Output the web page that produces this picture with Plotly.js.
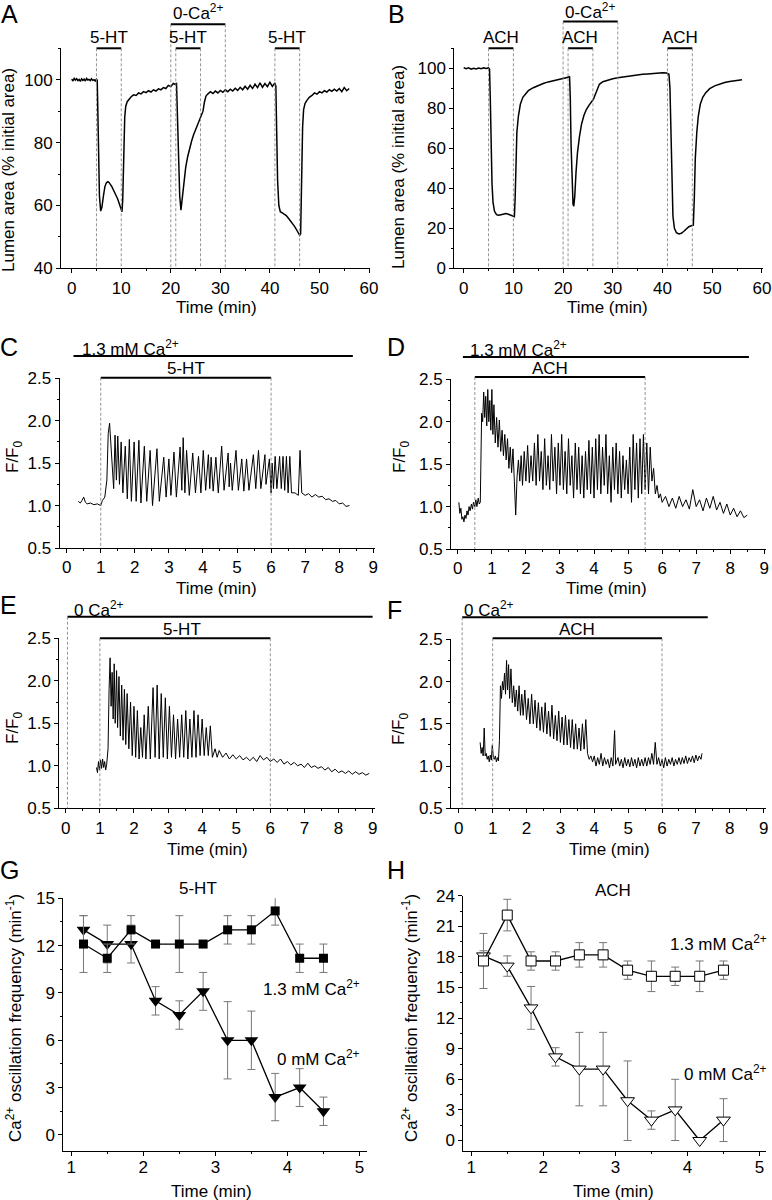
<!DOCTYPE html>
<html><head><meta charset="utf-8">
<script src="https://cdn.plot.ly/plotly-3.0.1.min.js"></script>
<style>html,body{margin:0;padding:0;background:#fff}#chart{width:772px;height:1200px}</style>
</head><body><div id="chart"></div>
<script>
// ---------------- DATA ----------------
// Panel A: lumen area (% initial) vs time (min), 5-HT
const A_trace = [
[0,100.2],[0.25,99.6],[0.5,100.4],[0.75,99.9],[1,100.3],[1.25,99.7],[1.5,100.1],[1.75,99.5],[2,100.3],[2.25,99.8],[2.5,100.2],[2.75,99.6],[3,100.4],[3.25,99.9],[3.5,100.1],[3.75,99.7],[4,100.3],[4.25,99.8],[4.5,100],[4.75,99.6],[5,100.2],[5.15,99.8],
[5.25,92],[5.4,75],[5.6,63],[5.85,58.2],[6.1,59.5],[6.4,63],[6.7,66],[7,67.2],[7.3,67.6],[7.5,67.4],[7.8,66.8],[8.1,66],[8.4,65],[8.7,64.2],[9,63],[9.3,62],[9.6,60.5],[9.9,59],[10.15,58],
[10.3,62],[10.5,78],[10.7,88],[10.9,91.5],[11.2,93],[11.6,93.8],[12,94.6],[12.5,95.2],[13,95],[13.5,95.8],[14,95.5],[14.5,96.2],[15,95.9],[15.5,96.5],[16,96.1],[16.5,96.8],[17,96.4],[17.5,97.1],[18,96.8],[18.5,97.5],[19,97.2],[19.5,98.2],[20,97.8],[20.5,98.8],[21,98.4],[21.15,99],
[21.3,90],[21.5,75],[21.8,63],[22.05,58.5],[22.3,62],[22.6,67],[23,72],[23.4,75.5],[23.8,78.5],[24.2,80.5],[24.6,82.5],[25,84],[25.4,85.5],[25.8,87],[26.2,88.5],[26.5,90],[26.8,93],[27.1,94.8],[27.5,95.5],[28,96.2],[28.5,95.6],[29,96.4],[29.5,95.8],[30,96.6],[30.5,96],[31,96.8],[31.5,96.2],[32,97],[32.5,96.4],[33,97.3],[33.5,96.6],[34,97.6],[34.5,96.8],[35,97.9],[35.5,97],[36,98.2],[36.5,97.2],[37,98.6],[37.5,97.5],[38,99],[38.5,97.6],[39,98.8],[39.5,97.8],[40,99.2],[40.5,97.9],[41,99],[41.2,98],
[41.35,85],[41.55,68],[41.8,60],[42.1,58],[42.5,57.6],[42.9,57.2],[43.3,56.8],[43.7,56],[44.1,55.2],[44.5,54.5],[44.9,53.5],[45.3,52.5],[45.7,51.2],[46,50.5],[46.2,51],
[46.4,70],[46.6,85],[46.8,90.5],[47.1,92.5],[47.5,93.5],[48,94.5],[48.5,95],[49,95.8],[49.5,95.4],[50,96.2],[50.5,95.8],[51,96.5],[51.5,96.1],[52,96.8],[52.5,96.3],[53,97],[53.5,96.4],[54,97.2],[54.5,96.2],[55,97.5],[55.5,96.5],[56,97.2]
];
// Panel B: lumen area, ACH
const B_trace = [
[0,100.3],[0.5,99.8],[1,100.2],[1.5,99.6],[2,100],[2.5,99.7],[3,100.1],[3.5,99.8],[4,100.2],[4.5,99.9],[5,100.2],[5.2,99.5],
[5.35,85],[5.5,60],[5.7,42],[5.9,33],[6.2,28.5],[6.6,26.8],[7,26.5],[7.5,26.8],[8,27.2],[8.5,27.4],[9,27],[9.5,26.6],[10,26],[10.2,25.8],
[10.35,35],[10.5,55],[10.7,68],[11,76],[11.4,82],[11.9,85.5],[12.5,87.5],[13,88.8],[14,90.3],[15,91.5],[16,92.4],[17,93.2],[18,93.8],[19,94.3],[20,94.8],[20.5,95],[21,95.5],[21.3,96],
[21.45,85],[21.6,62],[21.8,42],[22,32],[22.15,31],[22.35,36],[22.6,48],[22.9,58],[23.3,66],[23.7,72],[24.2,76.5],[24.7,79.5],[25.2,81.5],[25.7,83],[26.1,84.5],[26.5,87],[26.9,90],[27.3,92],[28,93.3],[29,94.2],[30,94.8],[31,95.3],[32,95.7],[33,96.1],[34,96.4],[35,96.7],[36,97],[37,97.2],[38,97.5],[39,97.7],[40,97.8],[40.8,97.6],[41.3,97],
[41.5,90],[41.7,65],[41.9,40],[42.1,26],[42.4,20],[42.8,17.8],[43.3,17.2],[43.8,17.5],[44.3,18.5],[44.8,19.8],[45.3,20.8],[45.8,21.3],[46.2,21.6],
[46.4,35],[46.6,55],[46.9,68],[47.2,76],[47.6,82],[48.1,85.5],[48.7,87.8],[49.5,89.8],[50.5,91.2],[51.5,92.2],[52.5,92.9],[53.5,93.4],[54.5,93.8],[55.5,94.1],[56,94.3]
];
// Panel C: F/F0, 5-HT, 1.3 mM Ca2+
const C_trace = [
[0.34,1.05],[0.4,1.03],[0.45,1.06],[0.5,1.1],[0.55,1.04],[0.6,1.02],[0.7,1.03],[0.8,1.01],[0.9,1.02],[1,1],[1.05,1.06],[1.12,1.1],[1.18,1.3],[1.22,1.85],[1.26,1.97],[1.3,1.75],[1.34,1.45],[1.38,1.2],[1.42,1.83],[1.46,1.3],[1.5,1.82],[1.55,1.25],[1.6,1.75],[1.65,1.15],[1.72,1.7],[1.78,1.08],[1.84,1.78],[1.9,1.05],[1.98,1.75],[2.04,1.05],[2.12,1.77],[2.18,1.03],[2.28,1.7],[2.35,1.05],[2.45,1.65],[2.52,1],[2.65,1.67],[2.72,1.05],[2.85,1.57],[2.92,1.1],[3,1.55],[3.06,1.12],[3.15,1.63],[3.22,1.1],[3.33,1.69],[3.38,1.18],[3.42,1.8],[3.47,1.15],[3.52,1.65],[3.6,1.12],[3.7,1.62],[3.78,1.15],[3.87,1.58],[3.94,1.15],[4.01,1.65],[4.08,1.18],[4.16,1.6],[4.2,1.2],[4.24,1.57],[4.3,1.17],[4.38,1.57],[4.45,1.15],[4.55,1.7],[4.62,1.18],[4.74,1.62],[4.77,1.22],[4.81,1.5],[4.86,1.18],[4.97,1.65],[5.04,1.18],[5.14,1.55],[5.2,1.17],[5.28,1.55],[5.35,1.18],[5.48,1.6],[5.55,1.2],[5.63,1.65],[5.7,1.2],[5.82,1.6],[5.85,1.25],[5.95,1.55],[6,1.15],[6.03,1.5],[6.07,1.2],[6.12,1.58],[6.17,1.2],[6.25,1.58],[6.3,1.2],[6.35,1.58],[6.4,1.18],[6.45,1.58],[6.5,1.15],[6.55,1.58],[6.6,1.15],[6.7,1.15],[6.8,1.12],[6.85,1.65],[6.9,1.15],[7,1.12],[7.1,1.14],[7.2,1.1],[7.3,1.13],[7.4,1.1],[7.5,1.11],[7.6,1.07],[7.7,1.08],[7.8,1.05],[7.9,1.06],[8,1.02],[8.1,1.03],[8.2,0.99],[8.3,1]
];
// Panel D: F/F0, ACH, 1.3 mM Ca2+
const D_trace = [
[0.03,1.05],[0.06,0.92],[0.09,0.98],[0.12,0.85],[0.15,0.88],[0.18,0.82],[0.21,0.9],[0.24,0.86],[0.27,0.95],[0.3,0.9],[0.33,1],[0.36,0.95],[0.4,1.03],[0.43,0.97],[0.46,1.05],[0.5,1],[0.53,1.08],[0.56,1],[0.6,1.1],[0.63,1.03],[0.66,1.05],[0.68,1.6],[0.7,2.1],[0.73,2],[0.76,2.35],[0.79,2.05],[0.82,2.3],[0.85,1.95],[0.88,2.38],[0.91,2],[0.94,2.25],[0.97,1.9],[1,2.38],[1.03,1.85],[1.06,2.2],[1.1,1.75],[1.14,2.05],[1.18,1.7],[1.22,2.02],[1.26,1.65],[1.3,1.9],[1.34,1.6],[1.38,1.85],[1.42,1.55],[1.46,1.8],[1.5,1.45],[1.54,1.7],[1.58,1.4],[1.62,1.68],[1.66,1.3],[1.7,0.9],[1.74,1.35],[1.78,1.55],[1.82,1.3],[1.86,1.6],[1.9,1.25],[1.95,1.65],[2,1.3],[2.05,1.72],[2.1,1.28],[2.15,1.6],[2.2,1.3],[2.25,1.75],[2.3,1.25],[2.35,1.85],[2.4,1.3],[2.45,1.65],[2.5,1.2],[2.55,1.8],[2.6,1.25],[2.65,1.6],[2.7,1.2],[2.75,1.85],[2.8,1.3],[2.85,1.7],[2.9,1.15],[2.95,1.75],[3,1.25],[3.05,1.85],[3.1,1.2],[3.15,1.65],[3.2,1.15],[3.25,1.8],[3.3,1.25],[3.35,1.6],[3.4,1.1],[3.45,1.75],[3.5,1.2],[3.55,1.7],[3.6,1.15],[3.65,1.6],[3.7,1.1],[3.75,1.65],[3.8,1.2],[3.85,1.78],[3.9,1.15],[3.95,1.7],[4,1.1],[4.05,1.8],[4.1,1.2],[4.15,1.85],[4.2,1.15],[4.25,1.7],[4.3,1.25],[4.35,1.85],[4.4,1.15],[4.45,1.6],[4.5,1.05],[4.55,1.7],[4.6,1.2],[4.65,1.75],[4.7,1.15],[4.75,1.65],[4.8,1.1],[4.85,1.6],[4.9,1.2],[4.95,1.55],[5,1.15],[5.05,1.7],[5.1,1.05],[5.15,1.85],[5.2,1.2],[5.25,1.75],[5.3,1.1],[5.35,1.8],[5.4,1.15],[5.45,1.85],[5.5,1.2],[5.55,1.75],[5.6,1.15],[5.65,1.7],[5.7,1.3],[5.75,1.45],[5.8,1.15],[5.85,1.25],[5.9,1.1],[5.95,1.15],[6,1.05],[6.1,1.12],[6.2,1],[6.3,1.1],[6.4,0.98],[6.5,1.12],[6.6,1],[6.7,1.08],[6.8,0.97],[6.9,1.2],[7,1],[7.1,1.08],[7.2,0.95],[7.3,1.1],[7.4,0.98],[7.5,1.12],[7.6,0.96],[7.7,1.05],[7.8,0.92],[7.9,1.03],[8,0.9],[8.1,0.98],[8.2,0.88],[8.3,0.95],[8.4,0.87],[8.5,0.9]
];
// Panel E: F/F0, 5-HT, 0 Ca2+
const E_trace = [
[0.9,0.98],[0.93,0.92],[0.96,1.05],[0.99,0.95],[1.02,1.07],[1.05,0.97],[1.08,1.08],[1.11,0.98],[1.14,1.05],[1.17,0.95],[1.2,1.02],[1.24,1.2],[1.27,1.9],[1.3,2.27],[1.33,1.7],[1.36,2.1],[1.39,1.55],[1.42,2.2],[1.45,1.5],[1.49,2.12],[1.52,1.45],[1.56,2.05],[1.6,1.35],[1.64,1.95],[1.68,1.3],[1.72,1.9],[1.76,1.25],[1.8,1.85],[1.85,1.2],[1.9,1.75],[1.95,1.12],[2,1.7],[2.05,1.1],[2.1,1.65],[2.15,1.08],[2.2,1.45],[2.25,1.1],[2.3,1.6],[2.35,1.08],[2.42,1.7],[2.48,1.08],[2.56,1.92],[2.62,1.1],[2.68,1.95],[2.74,1.08],[2.8,1.85],[2.86,1.1],[2.92,1.8],[2.98,1.08],[3.04,1.7],[3.1,1.1],[3.16,1.6],[3.22,1.08],[3.28,1.55],[3.34,1.1],[3.4,1.6],[3.46,1.1],[3.52,1.65],[3.58,1.08],[3.64,1.55],[3.7,1.1],[3.76,1.65],[3.82,1.1],[3.88,1.6],[3.94,1.12],[4,1.55],[4.06,1.12],[4.12,1.45],[4.18,1.12],[4.24,1.47],[4.3,1.1],[4.38,1.2],[4.44,1.1],[4.5,1.18],[4.6,1.1],[4.7,1.15],[4.8,1.08],[4.9,1.13],[5,1.08],[5.1,1.12],[5.2,1.07],[5.3,1.1],[5.4,1.06],[5.5,1.1],[5.6,1.05],[5.7,1.12],[5.8,1.07],[5.9,1.1],[6,1.05],[6.1,1.08],[6.2,1.04],[6.3,1.08],[6.4,1.02],[6.5,1.05],[6.6,1.01],[6.7,1.04],[6.8,1],[6.9,1.02],[7,0.98],[7.1,1.03],[7.2,0.98],[7.3,1],[7.4,0.97],[7.5,0.99],[7.6,0.95],[7.7,0.98],[7.8,0.93],[7.9,0.96],[8,0.92],[8.1,0.94],[8.2,0.91],[8.3,0.94],[8.4,0.9],[8.5,0.93],[8.6,0.9],[8.7,0.92],[8.8,0.89],[8.9,0.91]
];
// Panel F: F/F0, ACH, 0 Ca2+
const F_trace = [
[0.63,1.28],[0.66,1.15],[0.69,1.22],[0.72,1.12],[0.75,1.45],[0.78,1.12],[0.81,1.15],[0.84,1.08],[0.87,1.12],[0.9,1.05],[0.93,1.13],[0.96,1.07],[0.99,1.25],[1.02,1.1],[1.05,1.08],[1.08,1.12],[1.11,1.05],[1.14,1.1],[1.17,1.06],[1.2,1.3],[1.23,1.95],[1.26,1.8],[1.29,2],[1.32,1.9],[1.35,2.1],[1.38,1.85],[1.41,2.25],[1.44,1.9],[1.47,2.2],[1.5,1.8],[1.54,2.15],[1.58,1.75],[1.62,1.95],[1.66,1.7],[1.7,1.9],[1.74,1.65],[1.78,1.95],[1.82,1.6],[1.86,1.85],[1.9,1.6],[1.95,1.9],[2,1.55],[2.05,1.8],[2.1,1.5],[2.15,1.85],[2.2,1.5],[2.25,1.78],[2.3,1.45],[2.35,1.75],[2.4,1.42],[2.45,1.7],[2.5,1.4],[2.55,1.75],[2.6,1.38],[2.65,1.65],[2.7,1.35],[2.75,1.72],[2.8,1.32],[2.85,1.6],[2.9,1.3],[2.95,1.65],[3,1.28],[3.05,1.58],[3.1,1.25],[3.15,1.6],[3.2,1.25],[3.25,1.55],[3.3,1.22],[3.35,1.55],[3.4,1.2],[3.45,1.5],[3.5,1.2],[3.55,1.45],[3.6,1.18],[3.65,1.5],[3.7,1.2],[3.75,1.55],[3.8,1.15],[3.85,1.08],[3.9,1.12],[3.95,1.05],[4,1.12],[4.05,1],[4.1,1.1],[4.15,1.02],[4.2,1.15],[4.25,1],[4.3,1.1],[4.35,1.02],[4.4,1.08],[4.45,0.98],[4.5,1.1],[4.55,1],[4.6,1.42],[4.63,1.02],[4.7,1.1],[4.75,1],[4.8,1.08],[4.85,0.98],[4.9,1.1],[4.95,1],[5,1.08],[5.05,0.99],[5.1,1.1],[5.15,1],[5.2,1.08],[5.25,0.98],[5.3,1.1],[5.35,1],[5.4,1.08],[5.45,1],[5.5,1.1],[5.55,1],[5.6,1.1],[5.65,1.02],[5.7,1.15],[5.75,1.02],[5.8,1.28],[5.85,1.02],[5.9,1.1],[5.95,1],[6,1.08],[6.05,0.98],[6.1,1.1],[6.15,1],[6.2,1.08],[6.25,1.02],[6.3,1.1],[6.35,1],[6.4,1.08],[6.45,1.02],[6.5,1.1],[6.55,1.02],[6.6,1.1],[6.65,1.03],[6.7,1.12],[6.75,1.03],[6.8,1.1],[6.85,1.05],[6.9,1.12],[6.95,1.04],[7,1.13],[7.05,1.06],[7.1,1.12],[7.15,1.08],[7.18,1.15]
];
// Panels G/H: oscillation frequency (min^-1)
const freqTime = [1.17,1.5,1.83,2.17,2.5,2.83,3.17,3.5,3.83,4.17,4.5];
const G_ca13 = [12.1,11.2,13.0,12.1,12.1,12.1,13.0,13.0,14.2,11.2,11.2];
const G_ca13_err = [1.8,0.9,0.9,0,1.8,0,0.9,0.9,0.9,0.9,0.9];
const G_ca0 = [13.0,12.1,12.1,8.5,7.6,9.1,6.0,6.0,2.4,3.0,1.5];
const G_ca0_err = [0.9,1.2,1.2,0.9,0.9,1.2,2.45,1.85,1.5,1.2,0.9];
const H_ca13 = [17.6,22.1,17.6,17.6,18.2,18.2,16.7,16.1,16.1,16.1,16.7];
const H_ca13_err = [2.7,1.55,0.9,0.9,1.2,1.2,0.9,1.5,0.9,1.5,0.9];
const H_ca0 = [18.1,17.1,13.0,8.2,7.0,7.0,3.9,2.0,3.0,0,2.0];
const H_ca0_err = [0.5,1.0,2.1,0.9,3.6,3.6,3.9,0.9,3.0,0,2.1];
// Treatment intervals (min)
const A_drug = [[5,10],[21,26],[41,46]], A_ca0 = [20,31];
const B_drug = [[5,10],[21,26],[41,46]], B_ca0 = [20,31];
const C_ca = [0.2,8.4], C_drug = [1,6];
const D_ca = [0.15,8.55], D_drug = [0.5,5.5];
const E_ca = [0.05,9.0], E_drug = [1,6];
const F_ca = [0.1,7.35], F_drug = [1,6];

// ---------------- LAYOUT ----------------
const W=772, H=1200;
const fx = p => p/W, fy = p => 1 - p/H;
const FONT = '"Liberation Sans", Arial, Helvetica, sans-serif';

function axis(p0, p1, isY, range, dtick, minor, anchor, fsize, fmt, stand){
  const a = {
    domain: isY ? [fy(p1), fy(p0)] : [fx(p0), fx(p1)],
    range: range, tick0: 0, dtick: dtick, anchor: anchor,
    showline: true, linecolor:'#000', linewidth:1,
    ticks:'outside', ticklen:4, tickwidth:1, tickcolor:'#000',
    showgrid:false, zeroline:false, fixedrange:true,
    tickfont:{size:fsize, color:'#000', family:FONT},
    minor:{tick0:0, dtick:minor, ticks:'outside', ticklen:2, tickwidth:1, tickcolor:'#000', showgrid:false}
  };
  if (fmt) a.tickformat = fmt;
  if (stand) a.ticklabelstandoff = stand;
  return a;
}

const panels = [
  {n:'',  x:[61,370],    y:[48.3,268.3],  xr:[-2.16,60.2], yr:[40,110], xd:10, xm:5, yd:20, ym:10, fs:17, fmt:null, st:0},
  {n:'2', x:[454.3,762.7], y:[48.3,268.3], xr:[-1.89,60.16], yr:[0,110], xd:10, xm:5, yd:20, ym:10, fs:17, fmt:null, st:0},
  {n:'3', x:[59.5,375],  y:[378.3,548],   xr:[-0.21,9.05], yr:[0.5,2.5], xd:1, xm:0.5, yd:0.5, ym:0.25, fs:17, fmt:'.1f', st:0},
  {n:'4', x:[451,766],   y:[379.3,549],   xr:[-0.2,9.05], yr:[0.5,2.5], xd:1, xm:0.5, yd:0.5, ym:0.25, fs:17, fmt:'.1f', st:0},
  {n:'5', x:[59.3,375],  y:[638.3,808.3], xr:[-0.19,9.07], yr:[0.5,2.5], xd:1, xm:0.5, yd:0.5, ym:0.25, fs:17, fmt:'.1f', st:0},
  {n:'6', x:[451,766],   y:[639.3,808.3], xr:[-0.23,9.07], yr:[0.5,2.5], xd:1, xm:0.5, yd:0.5, ym:0.25, fs:17, fmt:'.1f', st:0},
  {n:'7', x:[63.3,366.7], y:[898.3,1150.7], xr:[0.89,5.1], yr:[-1,15], xd:1, xm:0.5, yd:3, ym:1.5, fs:17, fmt:null, st:-3},
  {n:'8', x:[463.3,766], y:[895.7,1150.7], xr:[0.89,5.09], yr:[-1,24], xd:1, xm:0.5, yd:3, ym:1.5, fs:17, fmt:null, st:-3}
];

const layout = {
  width:W, height:H, margin:{l:0,r:0,t:0,b:0}, showlegend:false,
  paper_bgcolor:'#fff', plot_bgcolor:'rgba(0,0,0,0)',
  font:{family:FONT, color:'#000', size:17},
  shapes:[], annotations:[]
};
panels.forEach(p => {
  layout['xaxis'+p.n] = axis(p.x[0], p.x[1], false, p.xr, p.xd, p.xm, 'y'+p.n, p.fs, null, p.st);
  layout['yaxis'+p.n] = axis(p.y[0], p.y[1], true, p.yr, p.yd, p.ym, 'x'+p.n, p.fs, p.fmt, 0);
});

function bar(xref, x0, x1, ypx, w){
  layout.shapes.push({type:'line', xref:xref, yref:'paper', x0:x0, x1:x1, y0:fy(ypx), y1:fy(ypx), line:{color:'#000', width:w||2}});
}
function vdash(xref, x, ytop, ybot){
  layout.shapes.push({type:'line', xref:xref, yref:'paper', x0:x, x1:x, y0:fy(ytop), y1:fy(ybot), line:{color:'#888', width:0.9, dash:'3px,2px'}});
}
function txt(x, y, text, o){
  o = o || {};
  layout.annotations.push({xref:o.xref||'paper', yref:'paper', x:o.xref? x : fx(x), y:fy(y), text:text, showarrow:false,
    xanchor:o.xa||'center', yanchor:'middle', textangle:o.rot||0,
    font:{size:o.size||17, color:'#000', family:FONT}});
}

// Panel A / B bars
[['x', A_drug, A_ca0, '5-HT', 268.3], ['x2', B_drug, B_ca0, 'ACH', 268.3]].forEach(([xr, drug, ca0, lbl, ybot]) => {
  drug.forEach(iv => {
    bar(xr, iv[0], iv[1], 48.3);
    vdash(xr, iv[0], 48.3, ybot); vdash(xr, iv[1], 48.3, ybot);
    txt((iv[0]+iv[1])/2, xr==='x'?38:37, lbl, {xref:xr});
  });
  bar(xr, ca0[0], ca0[1], xr==='x'?24.3:21.5);
  vdash(xr, ca0[0], xr==='x'?24.3:21.5, ybot); vdash(xr, ca0[1], xr==='x'?24.3:21.5, ybot);
  txt((ca0[0]+ca0[1])/2, xr==='x'?12.5:11, '0-Ca<sup>2+</sup>', {xref:xr});
});

// Panel C/D/E/F bars
[
  ['x3', C_ca, C_drug, '1.3 mM Ca<sup>2+</sup>', '5-HT', 356, 377.7, 548, 0.38, 3.5, false],
  ['x4', D_ca, D_drug, '1.3 mM Ca<sup>2+</sup>', 'ACH', 357, 377, 549, 0.29, 2.7, false],
  ['x5', E_ca, E_drug, '0 Ca<sup>2+</sup>', '5-HT', 616.7, 638.3, 808.3, 0.18, 3.4, true],
  ['x6', F_ca, F_drug, '0 Ca<sup>2+</sup>', 'ACH', 617.3, 638.3, 808.3, 0.1, 3.5, true]
].forEach(([xr, ca, drug, caLbl, dLbl, yCa, yDrug, ybot, caTx, dTx, caDash]) => {
  bar(xr, ca[0], ca[1], yCa);
  bar(xr, drug[0], drug[1], yDrug);
  vdash(xr, drug[0], yDrug, ybot); vdash(xr, drug[1], yDrug, ybot);
  if (caDash) vdash(xr, ca[0], yCa, ybot);
  txt(caTx, yCa-8, caLbl, {xref:xr, xa:'left'});
  txt(dTx, yDrug-9, dLbl, {xref:xr});
});

// Panel letters
[['A',9,14],['B',396,14],['C',9,347],['D',396,347],['E',8,605],['F',394,610],['G',9,870],['H',396,870]]
  .forEach(([l,x,y]) => txt(x, y, l, {size:25}));

// Axis titles
const yt1 = 'Lumen area (% initial area)';
txt(9, 170, yt1, {rot:-90});
txt(398, 167, yt1, {rot:-90});
const yt2 = 'F/F<sub>0</sub>';
txt(14, 456, yt2, {rot:-90});
txt(401, 456, yt2, {rot:-90});
txt(14, 727, yt2, {rot:-90});
txt(400, 728, yt2, {rot:-90});
const yt3 = 'Ca<sup>2+</sup> oscillation frequency (min<sup>-1</sup>)';
txt(14, 1018, yt3, {rot:-90});
txt(410, 1018, yt3, {rot:-90});
[[216,307],[607,307],[216,588],[606,588],[207,849],[609,849],[212,1191],[613,1191]]
  .forEach(([x,y]) => txt(x, y, 'Time (min)'));

// G/H inner labels
txt(198, 888, '5-HT');
txt(362, 988, '1.3 mM Ca<sup>2+</sup>', {xa:'right'});
txt(362, 1058, '0 mM Ca<sup>2+</sup>', {xa:'right'});
txt(613, 890, 'ACH');
txt(769, 943, '1.3 mM Ca<sup>2+</sup>', {xa:'right'});
txt(769, 1073, '0 mM Ca<sup>2+</sup>', {xa:'right'});

// ---------------- TRACES ----------------
function line(pts, n, w){
  return {type:'scatter', mode:'lines', x:pts.map(d=>d[0]), y:pts.map(d=>d[1]),
    xaxis:'x'+n, yaxis:'y'+n, line:{color:'#000', width:w}, hoverinfo:'skip'};
}
function pts(y, err, n, sym, size, open){
  return {type:'scatter', mode:'lines+markers', x:freqTime, y:y, xaxis:'x'+n, yaxis:'y'+n,
    line:{color:'#000', width:1.3},
    marker:{symbol:sym, size:size, color: open ? '#fff' : '#000', line:{color:'#000', width: open?1:0}},
    error_y:{type:'data', array:err, visible:true, color:'#777', thickness:1, width:4},
    hoverinfo:'skip', cliponaxis:false};
}
const data = [
  line(A_trace, '', 1.5),
  line(B_trace, '2', 1.5),
  line(C_trace, '3', 1),
  line(D_trace, '4', 1),
  line(E_trace, '5', 1),
  line(F_trace, '6', 1),
  pts(G_ca0, G_ca0_err, '7', 'triangle-down', 12, false),
  pts(G_ca13, G_ca13_err, '7', 'square', 9, false),
  pts(H_ca0, H_ca0_err, '8', 'triangle-down', 12, true),
  pts(H_ca13, H_ca13_err, '8', 'square', 10, true)
];

Plotly.newPlot('chart', data, layout, {staticPlot:true, displayModeBar:false});
</script>
</body></html>
